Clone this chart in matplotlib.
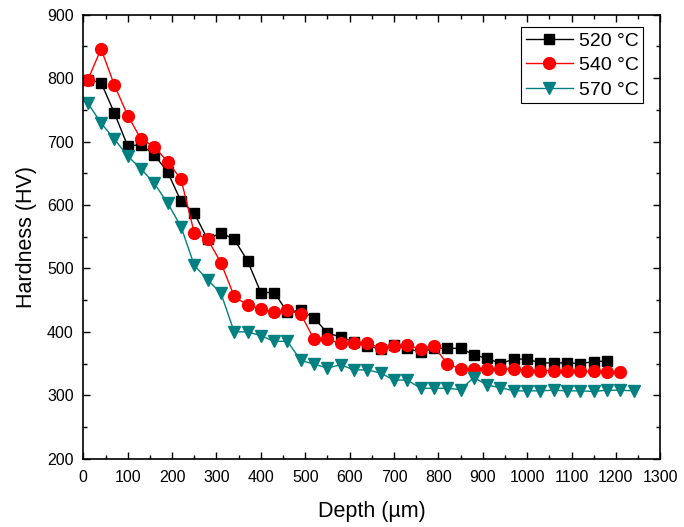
import matplotlib

matplotlib.use("Agg")

import numpy as np
import matplotlib.pyplot as plt
from matplotlib.ticker import MultipleLocator

plt.rcParams["font.family"] = ["Liberation Sans", "DejaVu Sans"]

# ---------------------------------------------------------------------------
# Hardness profiles (depth step 30 um from 10 um)
# ---------------------------------------------------------------------------
depth_520 = np.arange(10, 1181, 30)
hv_520 = [797, 793, 745, 693, 695, 679, 652, 606, 587, 546,
          556, 546, 512, 462, 462, 431, 434, 422, 398, 392,
          384, 378, 373, 380, 374, 368, 374, 374, 374, 364,
          358, 350, 357, 357, 351, 351, 351, 350, 353, 354]

depth_540 = np.arange(10, 1211, 30)
hv_540 = [797, 846, 789, 741, 704, 692, 668, 641, 556, 546,
          509, 456, 442, 436, 431, 434, 428, 388, 388, 382,
          382, 382, 375, 378, 379, 373, 378, 349, 342, 341,
          341, 341, 342, 339, 339, 339, 339, 338, 338, 337,
          337]

depth_570 = np.arange(10, 1241, 30)
hv_570 = [761, 729, 704, 677, 657, 634, 603, 566, 505, 482,
          461, 400, 400, 394, 385, 385, 355, 349, 343, 348,
          340, 340, 335, 324, 324, 311, 311, 311, 309, 328,
          316, 312, 307, 307, 307, 308, 307, 307, 306, 308,
          308, 307]

fig = plt.figure(figsize=(6.84, 5.27), dpi=100)
ax = fig.add_axes([0.1218, 0.1296, 0.8435, 0.8425])

ax.plot(depth_520, hv_520, "-s", color="black", lw=1, ms=7, label="520 °C")
ax.plot(depth_540, hv_540, "-o", color="red", lw=1, ms=8.5, label="540 °C")
ax.plot(depth_570, hv_570, "-v", color="#008080", lw=1, ms=8.5, label="570 °C")

ax.set_xlim(0, 1300)
ax.set_ylim(200, 900)
ax.xaxis.set_major_locator(MultipleLocator(100))
ax.xaxis.set_minor_locator(MultipleLocator(50))
ax.yaxis.set_major_locator(MultipleLocator(100))
ax.yaxis.set_minor_locator(MultipleLocator(50))
ax.tick_params(which="both", direction="in", top=True, right=True,
               labelsize=11.5, width=1)
ax.tick_params(which="major", length=5)
ax.tick_params(which="minor", length=3)
ax.tick_params(axis="x", which="major", pad=8)
ax.tick_params(axis="y", which="major", pad=7)
for s in ax.spines.values():
    s.set_linewidth(1.2)

ax.set_xlabel("Depth (µm)", fontsize=15.5, labelpad=12)
ax.set_ylabel("Hardness (HV)", fontsize=15.5, labelpad=7)

leg = ax.legend(loc="upper right", bbox_to_anchor=(0.9405, 0.9482),
                bbox_transform=fig.transFigure, borderaxespad=0,
                fontsize=14, fancybox=False, edgecolor="black", framealpha=1,
                handlelength=2.4, borderpad=0.25, labelspacing=0.35,
                handletextpad=0.3)
leg.get_frame().set_linewidth(0.8)

plt.savefig("out.png", dpi=100)
plt.close()
